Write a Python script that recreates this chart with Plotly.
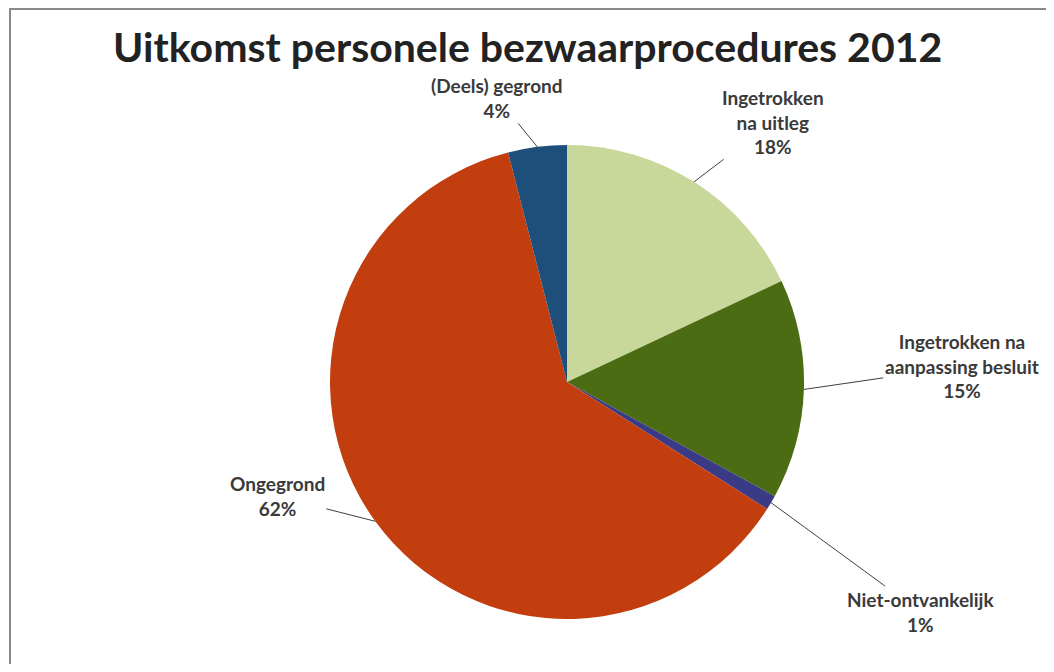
import math
import plotly.graph_objects as go

# The page body has an 8px margin, so the figure is sized to fit inside it.
W, H = 1038, 656

title = "Uitkomst personele bezwaarprocedures 2012"
categories = ["Ingetrokken na uitleg", "Ingetrokken na aanpassing besluit",
              "Niet-ontvankelijk", "Ongegrond", "(Deels) gegrond"]
label_lines = ["Ingetrokken<br>na uitleg", "Ingetrokken na<br>aanpassing besluit",
               "Niet-ontvankelijk", "Ongegrond", "(Deels) gegrond"]
values = [18, 15, 1, 62, 4]
colors = ["#c8d89a", "#4b6c13", "#3a3a86", "#c23e0e", "#1e4f7b"]

# label offsets (pixels) from slice edge point to label centre
offsets = [(79, -60), (158, -23), (149, 109), (-98, -25), (-40, -49)]

dom_x = [0.3102, 0.7669]
dom_y = [0.0686, 0.7912]

fig = go.Figure(go.Pie(
    labels=categories,
    values=values,
    sort=False,
    direction="clockwise",
    rotation=0,
    marker=dict(colors=colors, line=dict(width=0)),
    textinfo="none",
    hoverinfo="label+percent",
    showlegend=False,
    domain=dict(x=dom_x, y=dom_y),
))

# geometry of the pie in pixels, derived from the domain
cx = W * (dom_x[0] + dom_x[1]) / 2
cy = H * (1 - (dom_y[0] + dom_y[1]) / 2)
r = min(W * (dom_x[1] - dom_x[0]), H * (dom_y[1] - dom_y[0])) / 2

total = sum(values)
cum = 0
annotations = []
for lab, v, (ax, ay) in zip(label_lines, values, offsets):
    mid = (cum + v / 2) / total * 2 * math.pi
    cum += v
    px = cx + r * math.sin(mid)
    py = cy - r * math.cos(mid)
    annotations.append(dict(
        x=px / W, y=1 - py / H, xref="paper", yref="paper",
        text=f"{lab}<br>{round(v / total * 100)}%",
        showarrow=True, arrowhead=0, arrowwidth=1, arrowcolor="#404040",
        ax=ax, ay=ay, align="center",
        font=dict(family="Lato", size=19, color="#3a3a3a", weight="bold"),
    ))

annotations.append(dict(
    x=519 / W, y=1 - 38 / H, xref="paper", yref="paper", showarrow=False,
    text=f"<b>{title}</b>",
    font=dict(family="Lato", size=41, color="#222222"),
    xanchor="center", yanchor="middle",
))

fig.update_layout(
    width=W, height=H,
    margin=dict(l=0, r=0, t=0, b=0),
    paper_bgcolor="white",
    plot_bgcolor="white",
    annotations=annotations,
    shapes=[dict(type="rect", xref="paper", yref="paper",
                 x0=2 / W, x1=1.05, y0=-0.05, y1=1 - 1 / H,
                 line=dict(color="#8a8a8a", width=2))],
)

fig.write_html("out.html")
